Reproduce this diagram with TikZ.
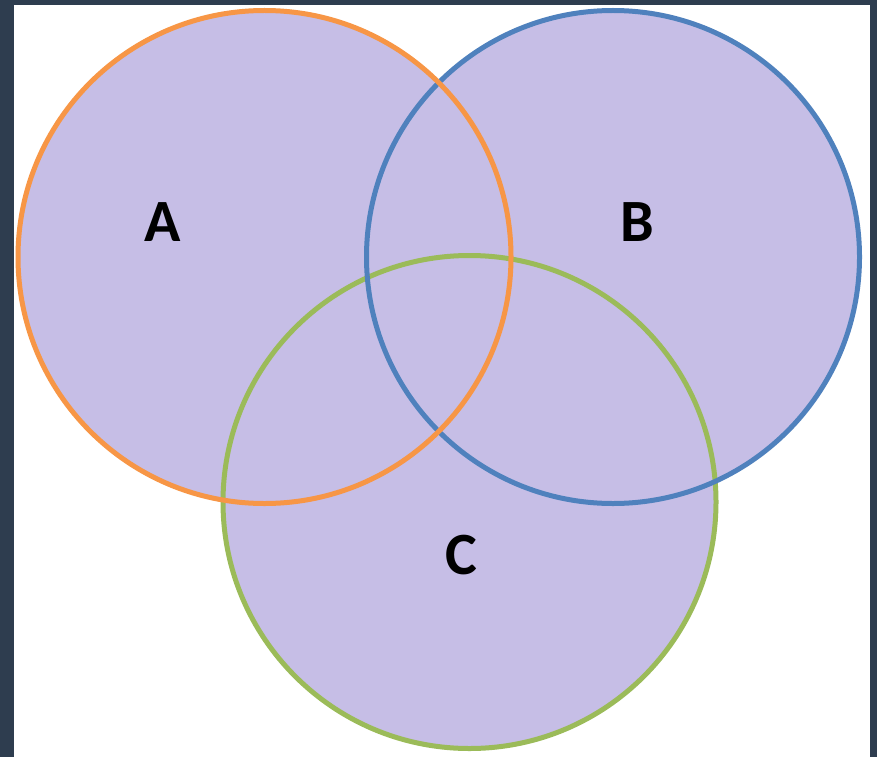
\documentclass[tikz,border=0pt]{standalone}
\usepackage{fontspec}
\setmainfont{Carlito}
\definecolor{frame}{HTML}{2E3D4F}
\definecolor{setfill}{HTML}{C6BEE6}
\definecolor{setA}{HTML}{F79646}
\definecolor{setB}{HTML}{4F81BD}
\definecolor{setC}{HTML}{9BBB59}
\begin{document}
\begin{tikzpicture}[
    x=1pt, y=-1pt,
    font=\fontsize{60}{62}\selectfont\bfseries,
    setdisk/.style={
        circle,
        fill=setfill,
        minimum size=493pt,
        inner sep=0pt
    },
    rim/.style={
        line width=5pt
    },
    setlabel/.style={
        inner sep=0pt,
        text=black
    }
]

% Frame and white sheet
\fill[frame] (0,0) rectangle (877,757);
\fill[white] (14,5) rectangle (870,757);
\useasboundingbox (0,0) rectangle (877,757);

% Filled sets
\node[setdisk] (C) at (469.5,502) {};
\node[setdisk] (B) at (613,257) {};
\node[setdisk] (A) at (264.5,257) {};

% Outlines, A on top
\draw[rim, setC] (C.center) circle[radius=246.5pt];
\draw[rim, setB] (B.center) circle[radius=246.5pt];
\draw[rim, setA] (A.center) circle[radius=246.5pt];

% Labels
\node[setlabel] (labelA) at (163,222) {A};
\node[setlabel] (labelB) at (637,222) {B};
\node[setlabel] (labelC) at (461,555) {C};

\end{tikzpicture}
\end{document}
